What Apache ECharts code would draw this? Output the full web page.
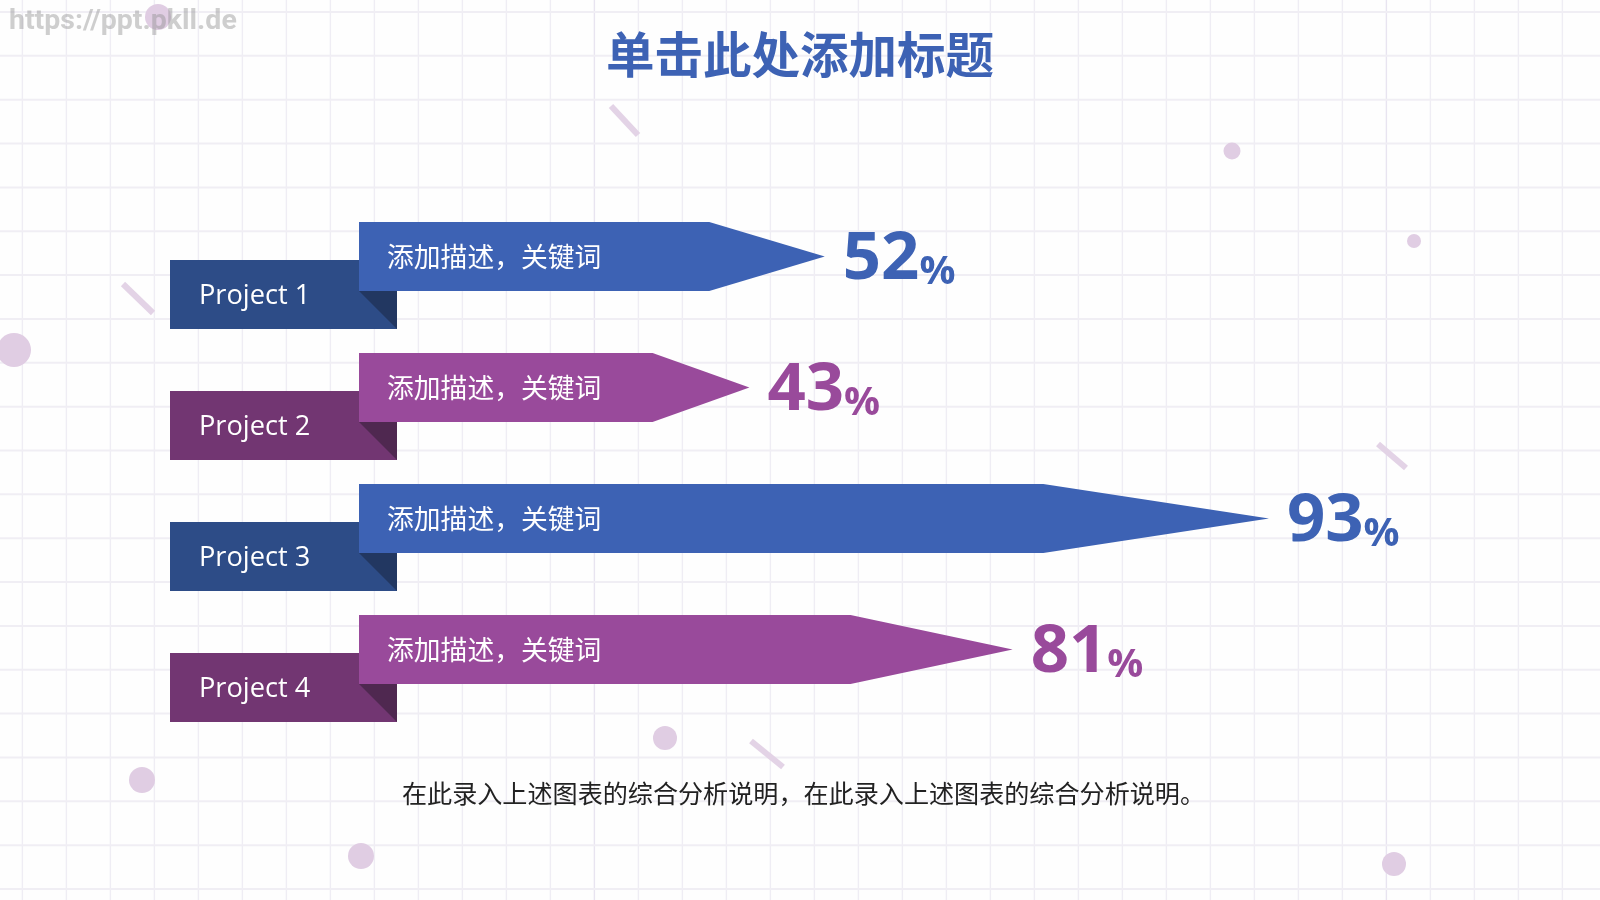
<!DOCTYPE html>
<html>
<head>
<meta charset="utf-8">
<title>chart</title>
<style>
html, body { margin: 0; padding: 0; background: #fff; }
#main { width: 1600px; height: 900px; }
</style>
<script src="https://cdn.jsdelivr.net/npm/echarts@6/dist/echarts.min.js"></script>
</head>
<body>
<div id="main"></div>
<script>
var categories = ['Project 1', 'Project 2', 'Project 3', 'Project 4'];
var percentLabels = [52, 43, 93, 81];
// the drawn arrows are not to scale with their labels, so lengths are read separately
var barLengths = [47.6, 39.9, 93, 66.8];
var descriptions = ['添加描述，关键词', '添加描述，关键词', '添加描述，关键词', '添加描述，关键词'];

var titleText = '单击此处添加标题';
var noteText = '在此录入上述图表的综合分析说明，在此录入上述图表的综合分析说明。';
var watermark = 'https://ppt.pkll.de';

var cjkFont = '"Noto Sans CJK SC", sans-serif';
var latinFont = '"Open Sans", "Noto Sans", sans-serif';

var blueSet = { bar: '#3d62b4', back: '#2d4c87', fold: '#223761' };
var purpleSet = { bar: '#994a9b', back: '#723672', fold: '#4f2850' };

var chart = echarts.init(document.getElementById('main'));

// squared paper and the scattered decoration behind the chart
var bg = [];
var i;
for (i = 0; i < 37; i++) {
    bg.push({
        type: 'line',
        shape: { x1: 22.4 + i * 44, y1: 0, x2: 22.4 + i * 44, y2: 900 },
        style: { stroke: (i == 13 || i == 31) ? '#e8e4f0' : '#efedf4', lineWidth: 1.4 }
    });
}
for (i = 0; i < 21; i++) {
    bg.push({
        type: 'line',
        shape: { x1: 0, y1: 12 + i * 43.85, x2: 1600, y2: 12 + i * 43.85 },
        style: { stroke: '#f0eef4', lineWidth: 2 }
    });
}
var dots = [[158, 17, 13], [1232, 151, 8.5], [1414, 241, 7], [14, 350, 17],
    [665, 738, 12], [142, 780, 13], [361, 856, 13], [1394, 864, 12]];
dots.forEach(function (d) {
    bg.push({ type: 'circle', shape: { cx: d[0], cy: d[1], r: d[2] }, style: { fill: '#e0cde3' } });
});
var sticks = [[611, 106, 638, 135], [123, 284, 153, 313], [1378, 444, 1406, 468], [751, 741, 783, 767]];
sticks.forEach(function (s) {
    bg.push({
        type: 'line',
        shape: { x1: s[0], y1: s[1], x2: s[2], y2: s[3] },
        style: { stroke: '#e3d3e6', lineWidth: 6 }
    });
});
bg.push({
    type: 'text',
    x: 9,
    y: 22,
    style: {
        text: watermark,
        fill: 'rgba(140,140,140,0.42)',
        font: 'bold 28.5px Roboto, sans-serif',
        verticalAlign: 'middle'
    }
});
bg.push({
    type: 'text',
    x: 803.5,
    y: 793,
    style: {
        text: noteText,
        fill: '#222',
        font: '25.1px ' + cjkFont,
        align: 'center',
        verticalAlign: 'middle'
    }
});

function renderArrow(params, api) {
    var idx = api.value(1);
    var c = idx % 2 == 0 ? blueSet : purpleSet;
    var base = api.coord([0, idx]);
    var tip = api.coord([api.value(0), idx]);
    var x = base[0];
    var cy = base[1];
    var shoulder = x + (tip[0] - x) * 0.752;
    var half = 34.5;
    return {
        type: 'group',
        children: [{
            type: 'rect',
            shape: { x: x - 189, y: cy + 3.5, width: 227, height: 69 },
            style: { fill: c.back }
        }, {
            type: 'polygon',
            shape: { points: [[x, cy + half], [x + 38, cy + half], [x + 38, cy + 72.5]] },
            style: { fill: c.fold }
        }, {
            type: 'polygon',
            shape: { points: [[x, cy - half], [shoulder, cy - half], [tip[0], cy], [shoulder, cy + half], [x, cy + half]] },
            style: { fill: c.bar }
        }, {
            type: 'text',
            x: x - 160,
            y: cy + 40,
            style: {
                text: categories[idx],
                fill: '#fff',
                font: '27.2px ' + latinFont,
                verticalAlign: 'middle'
            }
        }, {
            type: 'text',
            x: x + 28,
            y: cy,
            style: {
                text: descriptions[idx],
                fill: '#fff',
                font: '26.8px ' + cjkFont,
                verticalAlign: 'middle'
            }
        }, {
            type: 'text',
            x: tip[0] + 18,
            y: cy + 3,
            style: {
                text: '{n|' + percentLabels[idx] + '}{p|%}',
                verticalAlign: 'middle',
                rich: {
                    n: { fill: c.bar, font: 'bold 67px ' + latinFont, verticalAlign: 'bottom' },
                    p: { fill: c.bar, font: 'bold 40px ' + latinFont, verticalAlign: 'bottom' }
                }
            }
        }]
    };
}

var seriesData = [];
for (i = 0; i < barLengths.length; i++) {
    seriesData.push([barLengths[i], i]);
}

var option = {
    backgroundColor: '#fefefe',
    animation: false,
    title: {
        text: titleText,
        left: 'center',
        top: 25,
        textStyle: {
            color: '#3d62b4',
            fontFamily: cjkFont,
            fontSize: 48.5,
            fontWeight: 'bold'
        }
    },
    grid: { left: 359, top: 191, width: 978.5, height: 524 },
    xAxis: { type: 'value', min: 0, max: 100, show: false },
    yAxis: { type: 'category', data: categories, inverse: true, show: false },
    graphic: { elements: bg },
    series: [{
        type: 'custom',
        z: 3,
        renderItem: renderArrow,
        data: seriesData
    }]
};

chart.setOption(option);
</script>
</body>
</html>
